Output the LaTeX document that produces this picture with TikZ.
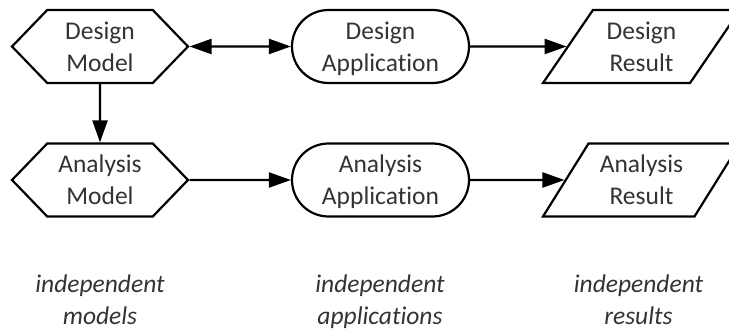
\documentclass[tikz,border=0pt]{standalone}
\usepackage{fontspec}
\setmainfont{Carlito}[Ligatures=NoCommon]
\usetikzlibrary{shapes.symbols,shapes.misc,shapes.geometric,arrows.meta}
\definecolor{txt}{HTML}{333333}
\newcommand\twolines[2]{\rule{0pt}{24pt}#1\\#2\rule[-6pt]{0pt}{6pt}}
\tikzset{
  base/.style={draw=black, line width=2.2pt, text=txt, align=center, inner sep=0pt,
    font=\fontsize{25.5}{32}\selectfont},
  hexa/.style={base, shape=signal, signal to=west and east, signal pointer angle=92,
    minimum width=176pt, minimum height=73pt},
  pill/.style={base, shape=rounded rectangle, minimum width=177pt, minimum height=73pt},
  para/.style={base, shape=trapezium, trapezium left angle=60, trapezium right angle=120,
    trapezium stretches=true, minimum width=197pt, minimum height=73pt},
  note/.style={align=center, inner sep=0pt, text=txt, font=\fontsize{25.5}{32}\selectfont\itshape},
  conn/.style={line width=2.2pt, -{Triangle[length=22pt,width=15pt]}},
  conn2/.style={line width=2.2pt, {Triangle[length=22pt,width=15pt]}-{Triangle[length=22pt,width=15pt]}}
}
\begin{document}
\begin{tikzpicture}[x=1pt,y=-1pt]
\useasboundingbox (0,0) rectangle (729,331);
\clip (0,0) rectangle (729,331);
\node[hexa] (dm) at (100,46.5) {\twolines{Design}{Model}};
\node[pill] (da) at (380.5,46.5) {\twolines{Design}{Application}};
\node[para] (dr) at (641.5,46.5) {\twolines{Design}{Result}};
\node[hexa] (am) at (100,180) {\twolines{Analysis}{Model}};
\node[pill] (aa) at (380.5,180) {\twolines{Analysis}{Application}};
\node[para] (ar) at (641.5,180) {\twolines{Analysis}{Result}};
\draw[conn2] (dm) -- (da);
\draw[conn] (da) -- (dr);
\draw[conn] (dm) -- (am);
\draw[conn] (am) -- (aa);
\draw[conn] (aa) -- (ar);
\node[note] (n1) at (100,299.5) {\twolines{independent}{models}};
\node[note] (n2) at (380,299.5) {\twolines{independent}{applications}};
\node[note] (n3) at (638.5,299.5) {\twolines{independent}{results}};
\end{tikzpicture}
\end{document}
